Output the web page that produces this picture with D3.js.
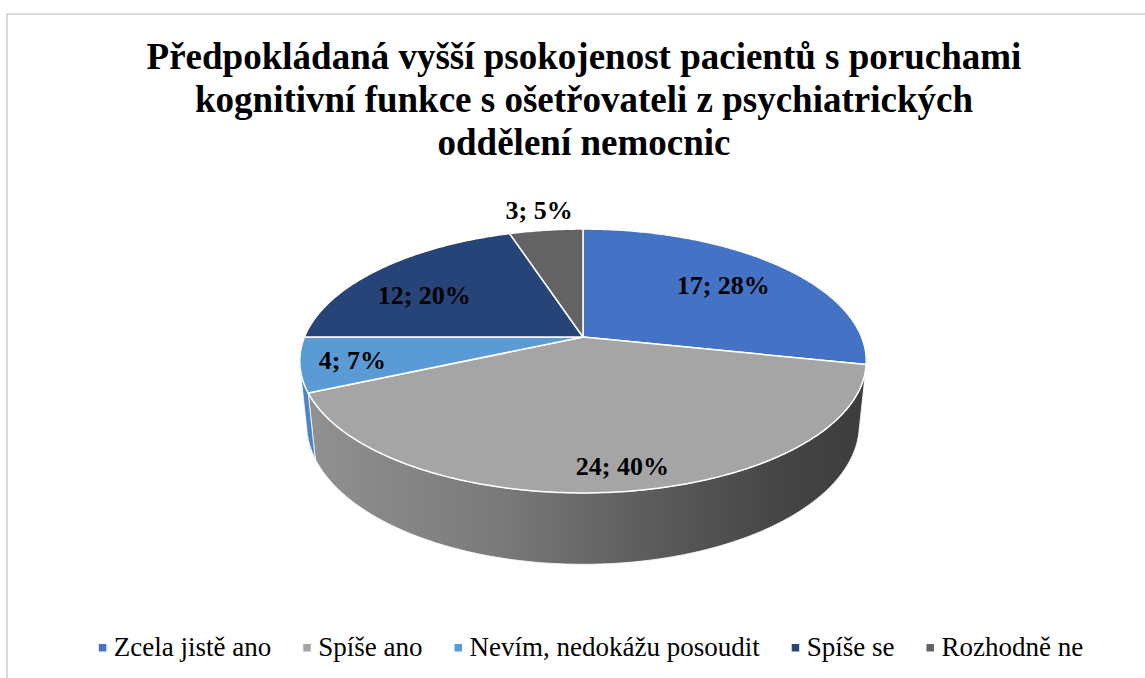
<!DOCTYPE html>
<html>
<head>
<meta charset="utf-8">
<script src="https://cdn.jsdelivr.net/npm/d3@7"></script>
<style>
  html, body { margin: 0; padding: 0; background: #fff; }
  svg { display: block; }
</style>
</head>
<body>
<svg id="chart" width="1145" height="678"></svg>
<script>
// ---- data ----
const titleLines = [
  "Předpokládaná vyšší psokojenost pacientů s poruchami",
  "kognitivní funkce s ošetřovateli z psychiatrických",
  "oddělení nemocnic"
];
const categories = ["Zcela jistě ano", "Spíše ano", "Nevím, nedokážu posoudit", "Spíše se", "Rozhodně ne"];
const counts = [17, 24, 4, 12, 3];

// ---- styles ----
const topColors = ["#4472C4", "#A5A5A5", "#5B9BD5", "#264478", "#636363"];
const sideColors = ["#3a64ae", null, "#4a86c4", "#1f3a66", "#555555"];
const fontSerif = "'Liberation Serif', 'Times New Roman', Times, serif";

const svg = d3.select("#chart");
const W = 1145, H = 678;

// chart border
svg.append("rect").attr("x", 7).attr("y", 14).attr("width", W + 20).attr("height", H + 20)
  .attr("fill", "none").attr("stroke", "#d9d9d9").attr("stroke-width", 2);

// title
const title = svg.append("text")
  .attr("text-anchor", "middle")
  .attr("font-family", fontSerif)
  .attr("font-weight", "bold")
  .attr("font-size", 37)
  .attr("fill", "#000");
titleLines.forEach((t, i) => {
  title.append("tspan").attr("x", 584).attr("y", 69 + i * 43).text(t);
});

// ---- 3D pie projection ----
const cam = { cx: 583, cy: 337, f: 1362, D: 4.89, sinA: 0.458, cosA: 0.889 };
const thick = 0.258;
function proj(theta, r, Y) {
  const X = r * Math.sin(theta), Z = r * Math.cos(theta);
  const depth = cam.D - Y * cam.sinA + Z * cam.cosA;
  const yv = Y * cam.cosA + Z * cam.sinA;
  return [cam.cx + cam.f * X / depth, cam.cy - cam.f * yv / depth];
}
const total = d3.sum(counts);
const pie = d3.pie().sort(null).value(d => d).startAngle(0).endAngle(2 * Math.PI);
const arcs = pie(counts);
const line = d3.line();

function sampleArc(a0, a1, r, Y) {
  const n = Math.max(2, Math.ceil(Math.abs(a1 - a0) / 0.01));
  return d3.range(n + 1).map(i => proj(a0 + (a1 - a0) * i / n, r, Y));
}

// visible side range
const cLim = -1 / (cam.D * cam.cosA);
const thLo = Math.acos(cLim), thHi = 2 * Math.PI - thLo;

const defs = svg.append("defs");
const g1 = defs.append("linearGradient").attr("id", "sideGray")
  .attr("gradientUnits", "userSpaceOnUse").attr("x1", 300).attr("x2", 866).attr("y1", 0).attr("y2", 0);
[[0, "#929292"], [0.35, "#7a7a7a"], [0.6, "#5e5e5e"], [0.85, "#454545"], [1, "#3d3d3d"]]
  .forEach(([o, c]) => g1.append("stop").attr("offset", o).attr("stop-color", c));

const gSides = svg.append("g");
arcs.forEach((a, i) => {
  const s = Math.max(a.startAngle, thLo), e = Math.min(a.endAngle, thHi);
  if (e <= s) return;
  const pts = sampleArc(s, e, 1, 0).concat(sampleArc(e, s, 1, -thick));
  gSides.append("path")
    .attr("d", line(pts) + "Z")
    .attr("fill", i === 1 ? "url(#sideGray)" : sideColors[i])
    .attr("stroke", "#ffffff").attr("stroke-width", 0.8).attr("stroke-linejoin", "round");
});

const gTop = svg.append("g");
arcs.forEach((a, i) => {
  const pts = [proj(0, 0, 0)].concat(sampleArc(a.startAngle, a.endAngle, 1, 0));
  gTop.append("path")
    .attr("d", line(pts) + "Z")
    .attr("fill", topColors[i])
    .attr("stroke", "#ffffff").attr("stroke-width", 1.5).attr("stroke-linejoin", "round");
});

// data labels
const labelR = [0.7, 0.86, 0.82, 0.7, 1.23];
const labelShift = [0, -2, 0, -6, 0].map(d => d * Math.PI / 180);
arcs.forEach((a, i) => {
  const mid = (a.startAngle + a.endAngle) / 2 + labelShift[i];
  const p = proj(mid, labelR[i], 0);
  svg.append("text")
    .attr("x", p[0]).attr("y", p[1]).attr("dy", "0.35em")
    .attr("text-anchor", "middle")
    .attr("font-family", fontSerif).attr("font-weight", "bold").attr("font-size", 26)
    .attr("fill", "#000")
    .text(counts[i] + "; " + Math.round(counts[i] / total * 100) + "%");
});

// legend
const leg = svg.append("g");
const items = categories.map((c, i) => {
  const g = leg.append("g");
  g.append("rect").attr("x", 0).attr("y", -12).attr("width", 7.5).attr("height", 7.5).attr("fill", topColors[i]);
  const t = g.append("text").attr("x", 15).attr("y", 0)
    .attr("font-family", fontSerif).attr("font-size", 27).attr("fill", "#000").text(c);
  return { g, w: 15 + t.node().getComputedTextLength() };
});
const gap = 32;
const totalW = d3.sum(items, d => d.w) + gap * (items.length - 1);
let x0 = 591 - totalW / 2;
items.forEach(it => {
  it.g.attr("transform", `translate(${x0},656)`);
  x0 += it.w + gap;
});
</script>
</body>
</html>
